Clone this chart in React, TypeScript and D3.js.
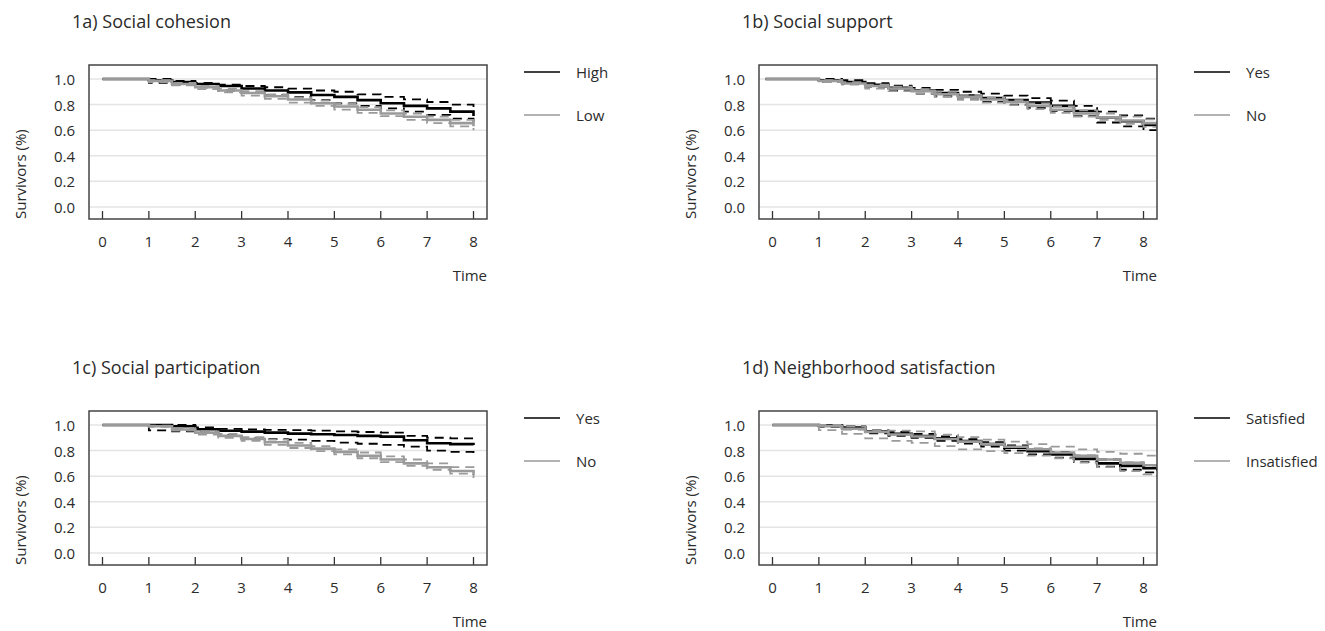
import React from "react";
import * as d3 from "d3";

// ---------- data ----------
const TICKS_X = [0, 1, 2, 3, 4, 5, 6, 7, 8];
const TICKS_Y = [0, 0.2, 0.4, 0.6, 0.8, 1.0];

const TIME_A = [0, 0.5, 1, 1.5, 2, 2.5, 3, 3.5, 4, 4.5, 5, 5.5, 6, 6.5, 7, 7.5, 8];
const TIME_B = [-0.15, 0.5, 1, 1.5, 2, 2.5, 3, 3.5, 4, 4.5, 5, 5.5, 6, 6.5, 7, 7.5, 8, 8.3];
const TIME_C = [0, 0.5, 1, 1.5, 2, 2.5, 3, 3.5, 4, 4.5, 5, 5.5, 6, 6.5, 7, 7.5, 8];
const TIME_D = [0, 0.5, 1, 1.5, 2, 2.5, 3, 3.5, 4, 4.5, 5, 5.5, 6, 6.5, 7, 7.5, 8, 8.3];

// 1a Social cohesion
const A_HIGH = [1, 1, 0.99, 0.975, 0.96, 0.945, 0.925, 0.91, 0.895, 0.875, 0.86, 0.835, 0.81, 0.79, 0.77, 0.745, 0.71];
const A_HIGH_UP = [1, 1, 1, 0.985, 0.97, 0.955, 0.945, 0.935, 0.925, 0.91, 0.9, 0.88, 0.86, 0.84, 0.82, 0.8, 0.78];
const A_HIGH_LO = [1, 1, 0.97, 0.955, 0.935, 0.91, 0.89, 0.875, 0.86, 0.835, 0.81, 0.79, 0.77, 0.745, 0.72, 0.69, 0.65];
const A_LOW = [1, 1, 0.985, 0.96, 0.935, 0.91, 0.89, 0.865, 0.84, 0.81, 0.785, 0.76, 0.73, 0.705, 0.68, 0.655, 0.63];
const A_LOW_UP = [1, 1, 0.99, 0.97, 0.945, 0.925, 0.905, 0.88, 0.855, 0.83, 0.805, 0.78, 0.755, 0.73, 0.705, 0.68, 0.655];
const A_LOW_LO = [1, 1, 0.975, 0.95, 0.92, 0.895, 0.87, 0.845, 0.815, 0.79, 0.76, 0.735, 0.71, 0.68, 0.655, 0.63, 0.6];

// 1b Social support
const B_YES = [1, 1, 0.99, 0.975, 0.955, 0.93, 0.91, 0.89, 0.87, 0.85, 0.835, 0.815, 0.79, 0.75, 0.7, 0.67, 0.64, 0.615];
const B_YES_UP = [1, 1, 1, 0.99, 0.968, 0.948, 0.93, 0.915, 0.9, 0.885, 0.87, 0.85, 0.83, 0.79, 0.745, 0.715, 0.69, 0.67];
const B_YES_LO = [1, 1, 0.975, 0.96, 0.94, 0.91, 0.885, 0.865, 0.84, 0.82, 0.8, 0.775, 0.75, 0.71, 0.66, 0.63, 0.6, 0.555];
const B_NO = [1, 1, 0.985, 0.965, 0.945, 0.925, 0.905, 0.88, 0.86, 0.84, 0.82, 0.79, 0.76, 0.73, 0.7, 0.675, 0.655, 0.635];
const B_NO_UP = [1, 1, 0.99, 0.975, 0.955, 0.94, 0.92, 0.9, 0.875, 0.855, 0.835, 0.81, 0.785, 0.755, 0.73, 0.705, 0.685, 0.665];
const B_NO_LO = [1, 1, 0.975, 0.955, 0.925, 0.905, 0.885, 0.86, 0.84, 0.815, 0.795, 0.765, 0.735, 0.705, 0.68, 0.65, 0.625, 0.595];

// 1c Social participation
const C_YES = [1, 1, 1, 0.99, 0.966, 0.955, 0.948, 0.94, 0.932, 0.927, 0.922, 0.915, 0.909, 0.88, 0.857, 0.85, 0.844];
const C_YES_UP = [1, 1, 1, 1, 0.98, 0.97, 0.965, 0.962, 0.96, 0.955, 0.95, 0.945, 0.94, 0.915, 0.9, 0.895, 0.89];
const C_YES_LO = [1, 1, 0.958, 0.95, 0.945, 0.92, 0.895, 0.89, 0.886, 0.875, 0.862, 0.853, 0.844, 0.83, 0.8, 0.79, 0.777];
const C_NO = [1, 1, 0.99, 0.965, 0.94, 0.915, 0.89, 0.865, 0.84, 0.815, 0.79, 0.76, 0.73, 0.7, 0.67, 0.64, 0.61];
const C_NO_UP = [1, 1, 0.995, 0.975, 0.95, 0.93, 0.905, 0.885, 0.86, 0.835, 0.81, 0.785, 0.755, 0.73, 0.7, 0.67, 0.64];
const C_NO_LO = [1, 1, 0.985, 0.955, 0.925, 0.9, 0.875, 0.845, 0.82, 0.795, 0.77, 0.74, 0.71, 0.68, 0.65, 0.62, 0.585];

// 1d Neighborhood satisfaction
const D_SAT = [1, 1, 0.995, 0.98, 0.948, 0.93, 0.914, 0.895, 0.875, 0.85, 0.823, 0.795, 0.77, 0.735, 0.7, 0.68, 0.662, 0.64];
const D_SAT_UP = [1, 1, 1, 0.99, 0.96, 0.945, 0.93, 0.91, 0.89, 0.865, 0.84, 0.815, 0.79, 0.76, 0.73, 0.705, 0.685, 0.665];
const D_SAT_LO = [1, 1, 0.985, 0.965, 0.935, 0.915, 0.9, 0.875, 0.855, 0.83, 0.8, 0.77, 0.745, 0.71, 0.675, 0.65, 0.63, 0.605];
const D_INS = [1, 1, 0.99, 0.97, 0.945, 0.925, 0.91, 0.89, 0.87, 0.85, 0.83, 0.81, 0.785, 0.76, 0.73, 0.705, 0.685, 0.665];
const D_INS_UP = [1, 1, 1, 0.99, 0.96, 0.955, 0.95, 0.925, 0.905, 0.885, 0.87, 0.85, 0.83, 0.81, 0.79, 0.775, 0.76, 0.745];
const D_INS_LO = [1, 1, 0.96, 0.93, 0.895, 0.875, 0.86, 0.835, 0.81, 0.795, 0.78, 0.76, 0.74, 0.705, 0.67, 0.64, 0.615, 0.59];

const TITLES = ["1a) Social cohesion", "1b) Social support", "1c) Social participation", "1d) Neighborhood satisfaction"];
const LEGENDS = [["High", "Low"], ["Yes", "No"], ["Yes", "No"], ["Satisfied", "Insatisfied"]];

// ---------- layout ----------
const W = 1325;
const H = 631;
const BOX_W = 398;
const BOX_H = 154;
const COL_X = [89, 759];
const ROW_Y = [65, 411];
const X_DOMAIN = [-0.291, 8.291];
const Y_DOMAIN = [-0.094, 1.109];
const FONT = "'Open Sans', 'Noto Sans', sans-serif";
const TEXT = "#2b2b2b";
const BLACK = "#000000";
const GRAY = "#9a9a9a";

type Series = { t: number[]; v: number[]; color: string; dashed: boolean };

const PANELS = [
  { time: TIME_A, g1: [A_HIGH, A_HIGH_UP, A_HIGH_LO], g2: [A_LOW, A_LOW_UP, A_LOW_LO] },
  { time: TIME_B, g1: [B_YES, B_YES_UP, B_YES_LO], g2: [B_NO, B_NO_UP, B_NO_LO] },
  { time: TIME_C, g1: [C_YES, C_YES_UP, C_YES_LO], g2: [C_NO, C_NO_UP, C_NO_LO] },
  { time: TIME_D, g1: [D_SAT, D_SAT_UP, D_SAT_LO], g2: [D_INS, D_INS_UP, D_INS_LO] },
];

function Panel({ idx }: { idx: number }) {
  const left = COL_X[idx % 2];
  const top = ROW_Y[Math.floor(idx / 2)];
  const x = d3.scaleLinear().domain(X_DOMAIN).range([left, left + BOX_W]);
  const y = d3.scaleLinear().domain(Y_DOMAIN).range([top + BOX_H, top]);
  const p = PANELS[idx];
  const series: Series[] = [
    { t: p.time, v: p.g1[1], color: BLACK, dashed: true },
    { t: p.time, v: p.g1[2], color: BLACK, dashed: true },
    { t: p.time, v: p.g1[0], color: BLACK, dashed: false },
    { t: p.time, v: p.g2[1], color: GRAY, dashed: true },
    { t: p.time, v: p.g2[2], color: GRAY, dashed: true },
    { t: p.time, v: p.g2[0], color: GRAY, dashed: false },
  ];
  const line = d3
    .line<[number, number]>()
    .x((d) => x(d[0]))
    .y((d) => y(d[1]))
    .curve(d3.curveStepAfter);
  const clipId = `clip-${idx}`;
  const right = left + BOX_W;
  const bottom = top + BOX_H;
  return (
    <g>
      <defs>
        <clipPath id={clipId}>
          <rect x={left} y={top} width={BOX_W} height={BOX_H} />
        </clipPath>
      </defs>
      <text x={left - 17} y={top - 37} fontSize={18} fill={TEXT} fontFamily={FONT}>
        {TITLES[idx]}
      </text>
      {TICKS_Y.map((v) => (
        <g key={v}>
          <line x1={left} x2={right} y1={y(v)} y2={y(v)} stroke="#e4e4e4" strokeWidth={1.5} />
          <text
            x={left - 14}
            y={y(v)}
            textAnchor="end"
            dominantBaseline="central"
            fontSize={15}
            fill={TEXT}
            fontFamily={FONT}
          >
            {v.toFixed(1)}
          </text>
        </g>
      ))}
      {TICKS_X.map((t) => (
        <g key={t}>
          <line x1={x(t)} x2={x(t)} y1={bottom} y2={bottom - 8} stroke="#333" strokeWidth={1.3} />
          <text x={x(t)} y={bottom + 28} textAnchor="middle" fontSize={15} fill={TEXT} fontFamily={FONT}>
            {t}
          </text>
        </g>
      ))}
      <g clipPath={`url(#${clipId})`}>
        {series.map((s, i) => (
          <path
            key={i}
            d={line(s.t.map((t, j) => [t, s.v[j]] as [number, number])) || ""}
            fill="none"
            stroke={s.color}
            strokeWidth={s.dashed ? 1.8 : 2.6}
            strokeDasharray={s.dashed ? "9,6" : undefined}
          />
        ))}
      </g>
      <rect x={left} y={top} width={BOX_W} height={BOX_H} fill="none" stroke="#444" strokeWidth={1.5} />
      <text
        transform={`translate(${left - 69},${bottom}) rotate(-90)`}
        textAnchor="start"
        dominantBaseline="central"
        fontSize={15}
        fill={TEXT}
        fontFamily={FONT}
      >
        Survivors (%)
      </text>
      <text x={right} y={bottom + 62} textAnchor="end" fontSize={15} fill={TEXT} fontFamily={FONT}>
        Time
      </text>
      {LEGENDS[idx].map((lab, i) => (
        <g key={lab}>
          <line
            x1={right + 37}
            x2={right + 73}
            y1={top + 7 + i * 43}
            y2={top + 7 + i * 43}
            stroke={i === 0 ? BLACK : GRAY}
            strokeWidth={1.5}
          />
          <text
            x={right + 89}
            y={top + 7 + i * 43}
            dominantBaseline="central"
            fontSize={15}
            fill={TEXT}
            fontFamily={FONT}
          >
            {lab}
          </text>
        </g>
      ))}
    </g>
  );
}

export default function App() {
  return (
    <svg
      width={W}
      height={H}
      viewBox={`0 0 ${W} ${H}`}
      style={{ position: "absolute", left: 0, top: 0, background: "#fff" }}
    >
      {[0, 1, 2, 3].map((i) => (
        <Panel key={i} idx={i} />
      ))}
    </svg>
  );
}
